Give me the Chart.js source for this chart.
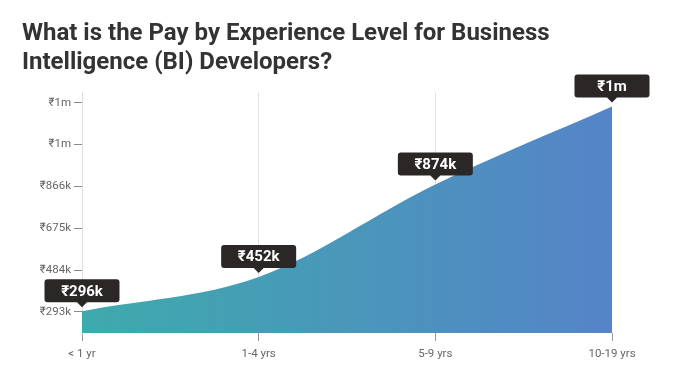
<!DOCTYPE html>
<html>
<head>
<meta charset="utf-8">
<script src="https://cdn.jsdelivr.net/npm/chart.js@4"></script>
<style>
html,body{margin:0;padding:0;background:#fff;}
#wrap{width:694px;height:384px;position:relative;}
</style>
</head>
<body>
<div id="wrap"><canvas id="c" width="694" height="384"></canvas></div>
<script>
const categories = ["< 1 yr", "1-4 yrs", "5-9 yrs", "10-19 yrs"];
const payValues = [296, 452, 874, 1230]; // thousands of rupees
const pointLabels = ["₹296k", "₹452k", "₹874k", "₹1m"];
const yTickValues = [293, 484, 675, 866, 1057, 1248];
const yTickLabels = ["₹293k", "₹484k", "₹675k", "₹866k", "₹1m", "₹1m"];
const titleLines = ["What is the Pay by Experience Level for Business", "Intelligence (BI) Developers?"];

const FONT = "Roboto, 'Noto Sans', sans-serif";

const labelPlugin = {
  id: 'pointLabels',
  afterDatasetsDraw(chart) {
    const ctx = chart.ctx;
    const meta = chart.getDatasetMeta(0);
    ctx.save();
    meta.data.forEach((pt, i) => {
      const x = pt.x, y = pt.y;
      const w = 75, h = 23, r = 3;
      const bottom = y - 9;
      const top = bottom - h;
      const left = x - w / 2;
      ctx.fillStyle = '#2b2727';
      ctx.beginPath();
      ctx.moveTo(left + r, top);
      ctx.lineTo(left + w - r, top);
      ctx.quadraticCurveTo(left + w, top, left + w, top + r);
      ctx.lineTo(left + w, bottom - r);
      ctx.quadraticCurveTo(left + w, bottom, left + w - r, bottom);
      ctx.lineTo(x + 5, bottom);
      ctx.lineTo(x, bottom + 5);
      ctx.lineTo(x - 5, bottom);
      ctx.lineTo(left + r, bottom);
      ctx.quadraticCurveTo(left, bottom, left, bottom - r);
      ctx.lineTo(left, top + r);
      ctx.quadraticCurveTo(left, top, left + r, top);
      ctx.closePath();
      ctx.fill();
      ctx.fillStyle = '#ffffff';
      ctx.font = 'bold 15px ' + FONT;
      ctx.textAlign = 'center';
      ctx.textBaseline = 'middle';
      ctx.fillText(pointLabels[i], x, top + h / 2 + 1);
    });
    ctx.restore();
  }
};

new Chart(document.getElementById('c'), {
  type: 'line',
  data: {
    labels: categories,
    datasets: [{
      data: payValues,
      fill: 'start',
      borderWidth: 0,
      borderColor: 'rgba(0,0,0,0)',
      pointRadius: 0,
      cubicInterpolationMode: 'monotone',
      backgroundColor(ctx) {
        const ca = ctx.chart.chartArea;
        if (!ca) return '#4a98b8';
        const g = ctx.chart.ctx.createLinearGradient(ca.left, 0, ca.right, 0);
        g.addColorStop(0, '#3eaaac');
        g.addColorStop(1, '#5584c8');
        return g;
      }
    }]
  },
  options: {
    responsive: false,
    animation: false,
    layout: { padding: { left: 22, right: 82, top: 0, bottom: 0 } },
    plugins: {
      legend: { display: false },
      tooltip: { enabled: false },
      title: {
        display: true,
        text: titleLines,
        align: 'start',
        color: '#333333',
        font: { family: FONT, size: 24, weight: 'bold', lineHeight: 1.22 },
        padding: { top: 19, bottom: 15 }
      }
    },
    scales: {
      x: {
        offset: false,
        afterFit(s) { s.height = 51; },
        grid: {
          display: true,
          drawOnChartArea: true,
          drawTicks: true,
          tickLength: 8,
          color(c) { return c.index === 3 ? 'rgba(0,0,0,0)' : '#e2e2e2'; },
          tickColor: '#9a9a9a',
          lineWidth: 1
        },
        border: { display: false },
        ticks: { color: '#666666', font: { family: FONT, size: 11.5 }, padding: 6, maxRotation: 0 }
      },
      y: {
        min: 197,
        max: 1294,
        afterFit(s) { s.width = 60; },
        afterBuildTicks(s) { s.ticks = yTickValues.map(v => ({ value: v })); },
        grid: {
          display: true,
          drawOnChartArea: false,
          drawTicks: true,
          tickLength: 8,
          tickColor: '#8a8a8a'
        },
        border: { display: true, color: '#dddddd' },
        ticks: {
          color: '#666666',
          font: { family: FONT, size: 11.5 },
          padding: 3,
          callback(v, i) { return yTickLabels[i]; }
        }
      }
    }
  },
  plugins: [labelPlugin]
});
</script>
</body>
</html>
